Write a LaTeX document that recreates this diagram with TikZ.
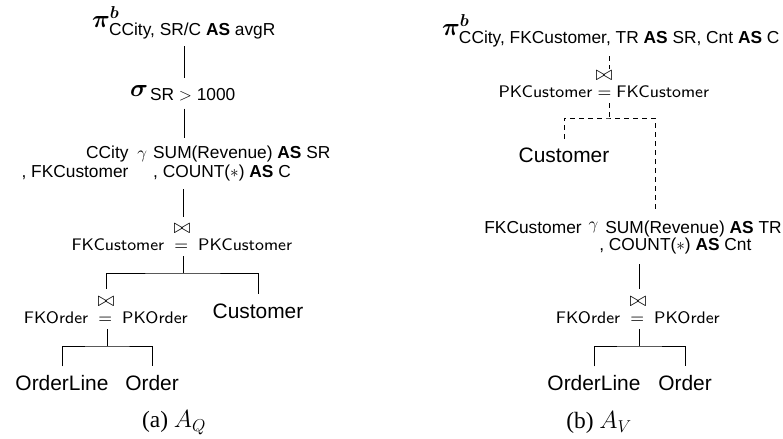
\documentclass[tikz,border=0pt]{standalone}
\usepackage[no-math]{fontspec}
\setmainfont{Liberation Serif}
\newfontfamily\helv{Liberation Sans}
\usepackage{amsmath}
\usepackage{bm}
\usepackage{graphicx}

% sans label font of the operators
\newcommand\opfont{\helv\fontsize{17.4}{20}\selectfont}
% bold keyword inside operator labels
\newcommand\kw[1]{\textbf{#1}}
% operator subscript set at the label size
\newcommand\opsub[1]{\hbox{\opfont #1}}
% join symbol stacked over its condition (sans-serif math)
\newcommand\joinop[2]{$\bowtie$\\%
  \scalebox{2.1}{\fontsize{8}{9}\selectfont$\mathsf{#1}=\mathsf{#2}$}}

\tikzset{
  rel/.style={font=\helv\fontsize{21}{25}\selectfont, inner sep=0pt, outer sep=0pt},
  op/.style={font=\opfont, inner sep=0pt, outer sep=0pt},
  pm/.style={font=\fontsize{24}{28}\selectfont, inner sep=0pt, outer sep=0pt},
  jn/.style={align=center, font=\fontsize{22.5}{17}\selectfont, inner sep=0pt, outer sep=0pt},
  subcap/.style={font=\fontsize{23.5}{26}\selectfont, inner sep=0pt},
  edge/.style={line width=0.9bp, black},
  dedge/.style={edge, dash pattern=on 5bp off 4bp},
}

\begin{document}
\begin{tikzpicture}[x=1bp, y=-1bp]
\useasboundingbox (0,0) rectangle (783,439);

% ---------------- plan A_Q ----------------
\node[pm] (piL) at (184,23)
  {$\bm\pi^{\bm b}_{\opsub{CCity, SR/C \kw{AS} avgR}}$};
\node[pm] (sigL) at (183,93)
  {$\bm\sigma_{\opsub{\,SR $>$ 1000}}$};
\node[op] (gamL) at (176,164)
  {\begin{tabular}{@{}r@{\hspace{9bp}}c@{\hspace{6bp}}l@{}}
     CCity & $\gamma$ & SUM(Revenue) \kw{AS} SR\\[-1bp]
     , FKCustomer & & , COUNT($*$) \kw{AS} C
   \end{tabular}};
\node[jn] (j1L) at (182,237) {\joinop{FKCustomer\;}{\;PKCustomer}};
\node[jn] (j2L) at (106,310) {\joinop{FKOrder\;}{\;PKOrder}};
\node[rel] (custL) at (258,311) {Customer};
\node[rel] (olL) at (62,383) {OrderLine};
\node[rel] (ordL) at (152,383) {Order};
\node[subcap] (capL) at (174,423) {(a) $A_Q$};

\coordinate (barL1) at (183,273);
\coordinate (barL2) at (107,346);

\draw[edge, shorten <=7bp, shorten >=7bp] (piL.south) -- (piL.south |- sigL.north);
\draw[edge, shorten <=8bp, shorten >=7bp] (piL.south |- sigL.south) -- (piL.south |- gamL.north);
\draw[edge, shorten <=6bp, shorten >=7bp] (barL1 |- gamL.south) -- (barL1 |- j1L.north);
\draw[edge, shorten <=6bp] (barL1 |- j1L.south) -- (barL1);
\draw[edge, shorten <=8bp, shorten >=10bp] (j2L.north) |- (barL1) -| (custL.north);
\draw[edge, shorten <=6bp] (barL2 |- j2L.south) -- (barL2);
\draw[edge, shorten <=9bp, shorten >=9bp] (olL.north) |- (barL2) -| (ordL.north);

% ---------------- plan A_V ----------------
\node[pm] (piR) at (611,31)
  {$\bm\pi^{\bm b}_{\opsub{CCity, FKCustomer, TR \kw{AS} SR, Cnt \kw{AS} C}}$};
\node[jn] (j1R) at (604,84) {\joinop{PKCustomer}{FKCustomer}};
\node[rel] (custR) at (564,155) {Customer};
\node[op] (gamR) at (633,238)
  {\begin{tabular}{@{}r@{\hspace{7bp}}c@{\hspace{7bp}}l@{}}
     FKCustomer & \raisebox{4bp}{$\gamma$} & SUM(Revenue) \kw{AS} TR\\[-3bp]
     & & \hspace{-6bp}, COUNT($*$) \kw{AS} Cnt
   \end{tabular}};
\node[jn] (j2R) at (638,310) {\joinop{FKOrder\;}{\;PKOrder}};
\node[rel] (olR) at (594,383) {OrderLine};
\node[rel] (ordR) at (685,383) {Order};
\node[subcap] (capR) at (599,423) {(b) $A_V$};

\coordinate (barR1) at (609,118);
\coordinate (gtopR) at (655,213);
\coordinate (barR2) at (639,346);

\draw[dedge, shorten <=9bp, shorten >=2bp] (barR1 |- piR.south) -- (barR1 |- j1R.north);
\draw[dedge, shorten <=6bp] (barR1 |- j1R.south) -- (barR1);
\draw[dedge, shorten <=9bp] (custR.north) |- (barR1) -| (gtopR);
\draw[edge, shorten <=8bp, shorten >=8bp] (barR2 |- gamR.south) -- (barR2 |- j2R.north);
\draw[edge, shorten <=6bp] (barR2 |- j2R.south) -- (barR2);
\draw[edge, shorten <=9bp, shorten >=9bp] (olR.north) |- (barR2) -| (ordR.north);
\end{tikzpicture}
\end{document}
